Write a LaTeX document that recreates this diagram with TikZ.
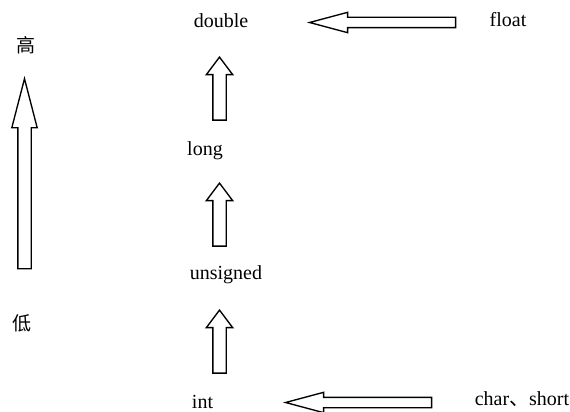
\documentclass[tikz,border=0pt]{standalone}
\usepackage{fontspec}
\setmainfont{Liberation Serif}
\newfontfamily\cjk{Noto Sans CJK SC}
\usetikzlibrary{shapes.arrows}

\begin{document}
\begin{tikzpicture}[
  x=1pt, y=-1pt,
  lbl/.style={font=\fontsize{20}{24}\selectfont, inner sep=0pt, anchor=base},
  hz/.style={font=\cjk\fontsize{19}{23}\selectfont, inner sep=0pt},
  blk/.style={single arrow, draw, line width=1.35pt, fill=white, anchor=tip},
  upa/.style={blk, shape border rotate=90, inner sep=6pt, single arrow head extend=6.5pt,
              single arrow tip angle=74, minimum height=63pt},
  lfa/.style={blk, shape border rotate=180, inner sep=4.5pt, single arrow head extend=5pt,
              single arrow tip angle=30, minimum height=146pt},
  bga/.style={blk, shape border rotate=90, inner sep=6pt, single arrow head extend=6pt,
              single arrow tip angle=29, minimum height=190pt}
]
\useasboundingbox (0,0) rectangle (570,412);

% type names, from high to low
\node[lbl] (dbl) at (221,28)  {double};
\node[lbl] (flt) at (508,27)  {float};
\node[lbl] (lng) at (205,155) {long};
\node[lbl] (uns) at (226,279) {unsigned};
\node[lbl] (int) at (202.5,408) {int};
\node[lbl] (chs) at (522,405) {char{\cjk 、}short};

% rank scale on the left
\node[hz] (hi) at (26,45)  {高};
\node[hz] (lo) at (22,323) {低};
\node[bga] (rank) at (24.5,76) {};

% conversion arrows
\node[upa] (up1) at (219.5,56)  {};
\node[upa] (up2) at (219.5,182) {};
\node[upa] (up3) at (219.5,309) {};
\node[lfa] (fromflt) at (307,22.5) {};
\node[lfa] (fromchs) at (283,402.5) {};
\end{tikzpicture}
\end{document}
